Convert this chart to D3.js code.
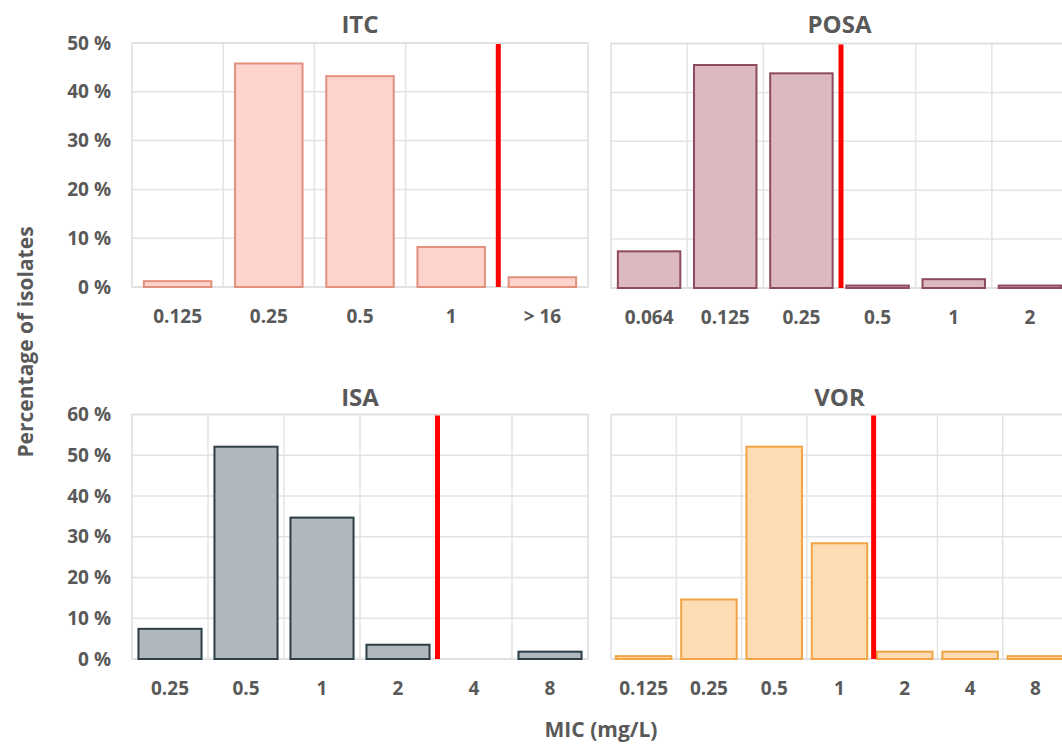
<!DOCTYPE html>
<html><head><meta charset="utf-8">
<script src="https://cdn.jsdelivr.net/npm/d3@7"></script>
<style>
body{margin:0;background:#fff;}
text{font-family:"Open Sans",sans-serif;font-weight:700;fill:#595959;}
</style></head>
<body><svg id="c" width="1062" height="746"></svg>
<script>
// ---- data ----
const itcCats = ["0.125","0.25","0.5","1","> 16"];
const itcVals = [1.2, 45.8, 43.2, 8.2, 2.0];
const posaCats = ["0.064","0.125","0.25","0.5","1","2"];
const posaVals = [7.5, 45.6, 43.9, 0.5, 1.8, 0.5];
const isaCats = ["0.25","0.5","1","2","4","8"];
const isaVals = [7.4, 52.1, 34.7, 3.5, 0, 1.8];
const vorCats = ["0.125","0.25","0.5","1","2","4","8"];
const vorVals = [0.7, 14.6, 52.1, 28.4, 1.8, 1.8, 0.7];
const topTicks = [0,10,20,30,40,50];
const bottomTicks = [0,10,20,30,40,50,60];
// breakpoint: index of first category beyond the breakpoint line
const itcBreak = 4, posaBreak = 3, isaBreak = 4, vorBreak = 4;

const svg = d3.select("#c");

const panels = [
  {title:"ITC", cats:itcCats, vals:itcVals, brk:itcBreak, ticks:topTicks, max:50,
   x0:132, x1:588, y0:43, y1:287, pad:0.26, fill:"#fdd3cb", stroke:"#e2917f", yAxis:true, ty:33},
  {title:"POSA", cats:posaCats, vals:posaVals, brk:posaBreak, ticks:topTicks, max:50,
   x0:611, x1:1068, y0:43.5, y1:288, pad:0.18, fill:"#dcb9c1", stroke:"#8e4b5e", yAxis:false, ty:33},
  {title:"ISA", cats:isaCats, vals:isaVals, brk:isaBreak, ticks:bottomTicks, max:60,
   x0:132, x1:588, y0:414.5, y1:659, pad:0.17, fill:"#aeb8bd", stroke:"#2e3e47", yAxis:true, ty:406},
  {title:"VOR", cats:vorCats, vals:vorVals, brk:vorBreak, ticks:bottomTicks, max:60,
   x0:611, x1:1068, y0:414.5, y1:659, pad:0.15, fill:"#fedcb3", stroke:"#f0a443", yAxis:false, ty:406}
];

panels.forEach(p => {
  const x = d3.scaleBand().domain(p.cats).range([p.x0, p.x1]).paddingInner(p.pad).paddingOuter(p.pad/2);
  const xs = d3.scaleBand().domain(p.cats).range([p.x0, p.x1]);
  const y = d3.scaleLinear().domain([0, p.max]).range([p.y1, p.y0]);
  const g = svg.append("g");

  // horizontal grid
  g.selectAll(".hg").data(p.ticks).join("line")
    .attr("x1", p.x0).attr("x2", p.x1)
    .attr("y1", d => y(d)).attr("y2", d => y(d))
    .attr("stroke", "#e3e3e3").attr("stroke-width", 1.5);
  // vertical grid (category boundaries)
  g.selectAll(".vg").data(p.cats.slice(1)).join("line")
    .attr("x1", d => xs(d)).attr("x2", d => xs(d))
    .attr("y1", p.y0).attr("y2", p.y1)
    .attr("stroke", "#e3e3e3").attr("stroke-width", 1.5);
  // border
  g.append("rect").attr("x", p.x0).attr("y", p.y0)
    .attr("width", p.x1 - p.x0).attr("height", p.y1 - p.y0)
    .attr("fill", "none").attr("stroke", "#dedede").attr("stroke-width", 1.5);

  // bars
  g.selectAll(".bar").data(p.cats.map((c, i) => ({c, v: p.vals[i]})).filter(d => d.v > 0)).join("rect")
    .attr("x", d => x(d.c)).attr("width", x.bandwidth())
    .attr("y", d => y(d.v)).attr("height", d => y(0) - y(d.v))
    .attr("fill", p.fill).attr("stroke", p.stroke).attr("stroke-width", 2);

  // x tick labels
  const xAxis = d3.axisBottom(xs).tickSize(0).tickPadding(0);
  const ax = g.append("g").attr("transform", `translate(0,${p.y1})`).call(xAxis);
  ax.select(".domain").remove();
  ax.selectAll("text").attr("dy", null).attr("y", 36).style("font-size", "19px")
    .attr("fill", "#595959").style("font-family", "'Open Sans',sans-serif").style("font-weight", 700);

  // y axis
  if (p.yAxis) {
    const yAxis = d3.axisLeft(y).tickValues(p.ticks).tickSize(0).tickPadding(0).tickFormat(d => d + " %");
    const ay = g.append("g").attr("transform", `translate(111,0)`).call(yAxis);
    ay.select(".domain").remove();
    ay.selectAll("text").style("font-size", "19px").attr("fill", "#595959")
      .style("font-family", "'Open Sans',sans-serif").style("font-weight", 700);
  }

  // breakpoint line
  const bx = xs(p.cats[p.brk]) + 1.5;
  g.append("line").attr("x1", bx).attr("x2", bx)
    .attr("y1", p.y0 + 1).attr("y2", p.y1)
    .attr("stroke", "#ff0000").attr("stroke-width", 5);

  // title
  g.append("text").attr("x", (p.x0 + p.x1) / 2).attr("y", p.ty)
    .attr("text-anchor", "middle").style("font-size", "24px").text(p.title);
});

// axis titles
svg.append("text").attr("transform", "translate(33,342) rotate(-90)")
  .attr("text-anchor", "middle").style("font-size", "21px").text("Percentage of isolates");
svg.append("text").attr("x", 601).attr("y", 737)
  .attr("text-anchor", "middle").style("font-size", "21px").text("MIC (mg/L)");
</script></body></html>
